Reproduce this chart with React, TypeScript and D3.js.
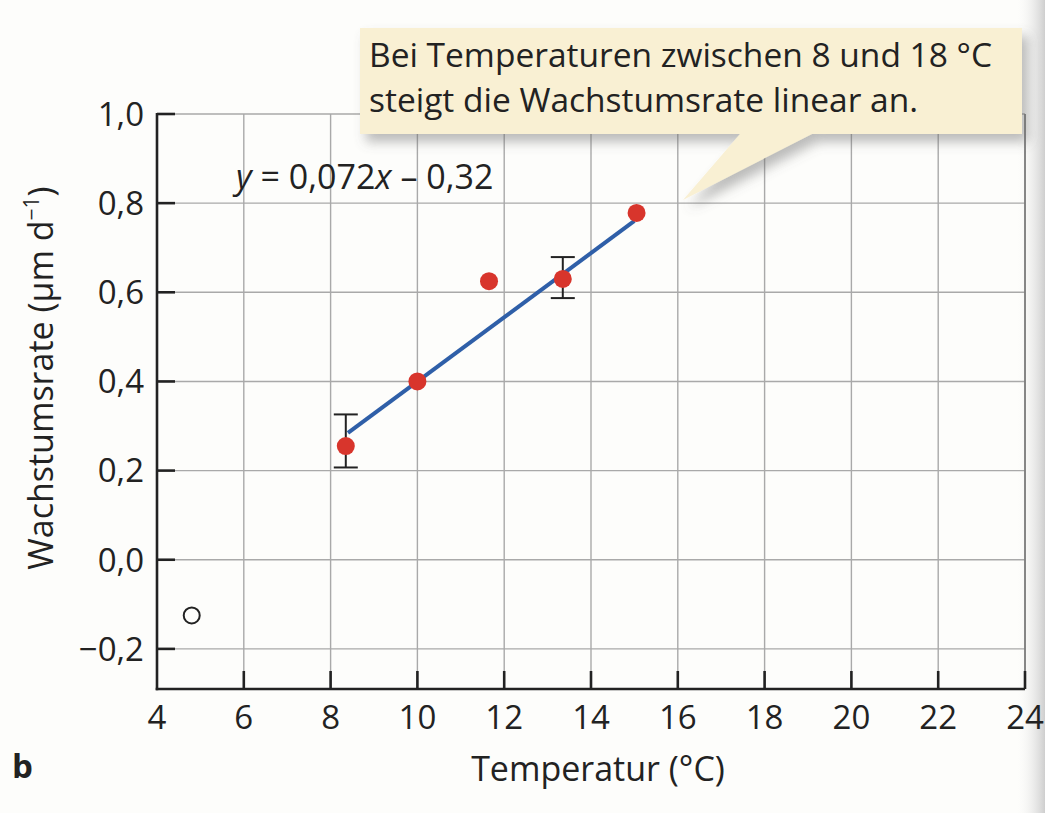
import React from "react";
import * as d3 from "d3";

// ---- data ----
const temperatures = [8.35, 10, 11.65, 13.35, 15.05];
const growthRates = [0.255, 0.4, 0.625, 0.63, 0.778];
const errorLow = [0.207, null, null, 0.587, null];
const errorHigh = [0.326, null, null, 0.679, null];
const outlierTemp = [4.8];
const outlierRate = [-0.125];
const fitSlope = 0.072;
const fitIntercept = -0.32;
const fitRange = [8.4, 15];
const xTicks = [4, 6, 8, 10, 12, 14, 16, 18, 20, 22, 24];
const yTicks = [-0.2, 0, 0.2, 0.4, 0.6, 0.8, 1.0];
const xDomain = [4, 24];
const yDomain = [-0.29, 1.0];

const W = 1045;
const H = 813;
const FONT = "'Open Sans', 'Noto Sans', sans-serif";

export default function App() {
  const x = d3.scaleLinear().domain(xDomain).range([157, 1025]);
  const y = d3.scaleLinear().domain(yDomain).range([689, 114]);
  const fmt = (v: number) => (v < 0 ? "\u2212" : "") + Math.abs(v).toFixed(1).replace(".", ",");
  const fitLine = d3
    .line<number>()
    .x((t) => x(t))
    .y((t) => y(fitSlope * t + fitIntercept));

  const left = x(xDomain[0]);
  const right = x(xDomain[1]);
  const top = y(1.0);
  const bottom = y(yDomain[0]);

  return (
    <svg
      width={W}
      height={H}
      style={{ position: "absolute", left: 0, top: 0, background: "#fdfdfb" }}
      fontFamily={FONT}
    >
      <defs>
        <filter id="shadow" x="-5%" y="-20%" width="115%" height="160%">
          <feDropShadow dx="6" dy="8" stdDeviation="6" floodColor="#6a6a6a" floodOpacity="0.45" />
        </filter>
        <linearGradient id="fold" x1="0" x2="1" y1="0" y2="0">
          <stop offset="0" stopColor="#ffffff" stopOpacity="0" />
          <stop offset="1" stopColor="#c9c9c9" stopOpacity="0.9" />
        </linearGradient>
      </defs>
      <rect x={1015} y={0} width={30} height={H} fill="url(#fold)" />

      {/* grid */}
      <g stroke="#a9a9a9" strokeWidth={1.4}>
        {xTicks.slice(1).map((t) => (
          <line key={"gx" + t} x1={x(t)} x2={x(t)} y1={top} y2={bottom} />
        ))}
        {yTicks.map((t) => (
          <line key={"gy" + t} x1={left} x2={right} y1={y(t)} y2={y(t)} />
        ))}
      </g>
      <line x1={right} x2={right} y1={top} y2={bottom} stroke="#777" strokeWidth={1.6} />

      {/* axes */}
      <g stroke="#222" strokeWidth={2.6}>
        <line x1={left} x2={left} y1={top - 1} y2={bottom + 1.3} />
        <line x1={left - 1.3} x2={right} y1={bottom} y2={bottom} />
        {yTicks.map((t) => (
          <line key={"ty" + t} x1={left} x2={left + 18} y1={y(t)} y2={y(t)} />
        ))}
        {xTicks.slice(1).map((t) => (
          <line key={"tx" + t} x1={x(t)} x2={x(t)} y1={bottom} y2={bottom - 18} />
        ))}
      </g>

      {/* tick labels */}
      <g fontSize={33} fill="#222">
        {yTicks.map((t) => (
          <text key={"ly" + t} x={left - 13} y={y(t)} dy="0.36em" textAnchor="end">
            {fmt(t)}
          </text>
        ))}
        {xTicks.map((t) => (
          <text key={"lx" + t} x={x(t)} y={bottom + 40} textAnchor="middle">
            {t}
          </text>
        ))}
      </g>

      {/* axis titles */}
      <text x={598} y={781} fontSize={34} textAnchor="middle" fill="#222">
        Temperatur (°C)
      </text>
      <text
        transform={`translate(53,378) rotate(-90)`}
        fontSize={34}
        textAnchor="middle"
        fill="#222"
      >
        Wachstumsrate (µm d
        <tspan fontSize={21} dy={-14}>−1</tspan>
        <tspan dy={14}>)</tspan>
      </text>
      <text x={12} y={778} fontSize={33} fontWeight="bold" fill="#222">
        b
      </text>

      {/* equation */}
      <text x={236} y={189} fontSize={34} fill="#222">
        <tspan fontStyle="italic">y</tspan> = 0,072<tspan fontStyle="italic">x</tspan> – 0,32
      </text>

      {/* regression line */}
      <path d={fitLine(fitRange) || ""} stroke="#2f5fa8" strokeWidth={4} fill="none" />

      {/* error bars */}
      <g stroke="#222" strokeWidth={2}>
        {temperatures.map((t, i) =>
          errorLow[i] != null && errorHigh[i] != null ? (
            <g key={"e" + i}>
              <line x1={x(t)} x2={x(t)} y1={y(errorLow[i] as number)} y2={y(errorHigh[i] as number)} />
              <line x1={x(t) - 12} x2={x(t) + 12} y1={y(errorLow[i] as number)} y2={y(errorLow[i] as number)} />
              <line x1={x(t) - 12} x2={x(t) + 12} y1={y(errorHigh[i] as number)} y2={y(errorHigh[i] as number)} />
            </g>
          ) : null
        )}
      </g>

      {/* points */}
      {temperatures.map((t, i) => (
        <circle key={"p" + i} cx={x(t)} cy={y(growthRates[i])} r={9} fill="#d8352c" />
      ))}
      {outlierTemp.map((t, i) => (
        <circle
          key={"o" + i}
          cx={x(t)}
          cy={y(outlierRate[i])}
          r={8}
          fill="none"
          stroke="#222"
          strokeWidth={2}
        />
      ))}

      {/* callout */}
      <g filter="url(#shadow)">
        <path
          d="M360,28 L1022,28 L1022,134 L812,134 L683,200 L740,134 L360,134 Z"
          fill="#f9f0d3"
        />
      </g>
      <g fontSize={33.5} fill="#222">
        <text x={369} y={67}>Bei Temperaturen zwischen 8 und 18 °C</text>
        <text x={369} y={112}>steigt die Wachstumsrate linear an.</text>
      </g>
    </svg>
  );
}
